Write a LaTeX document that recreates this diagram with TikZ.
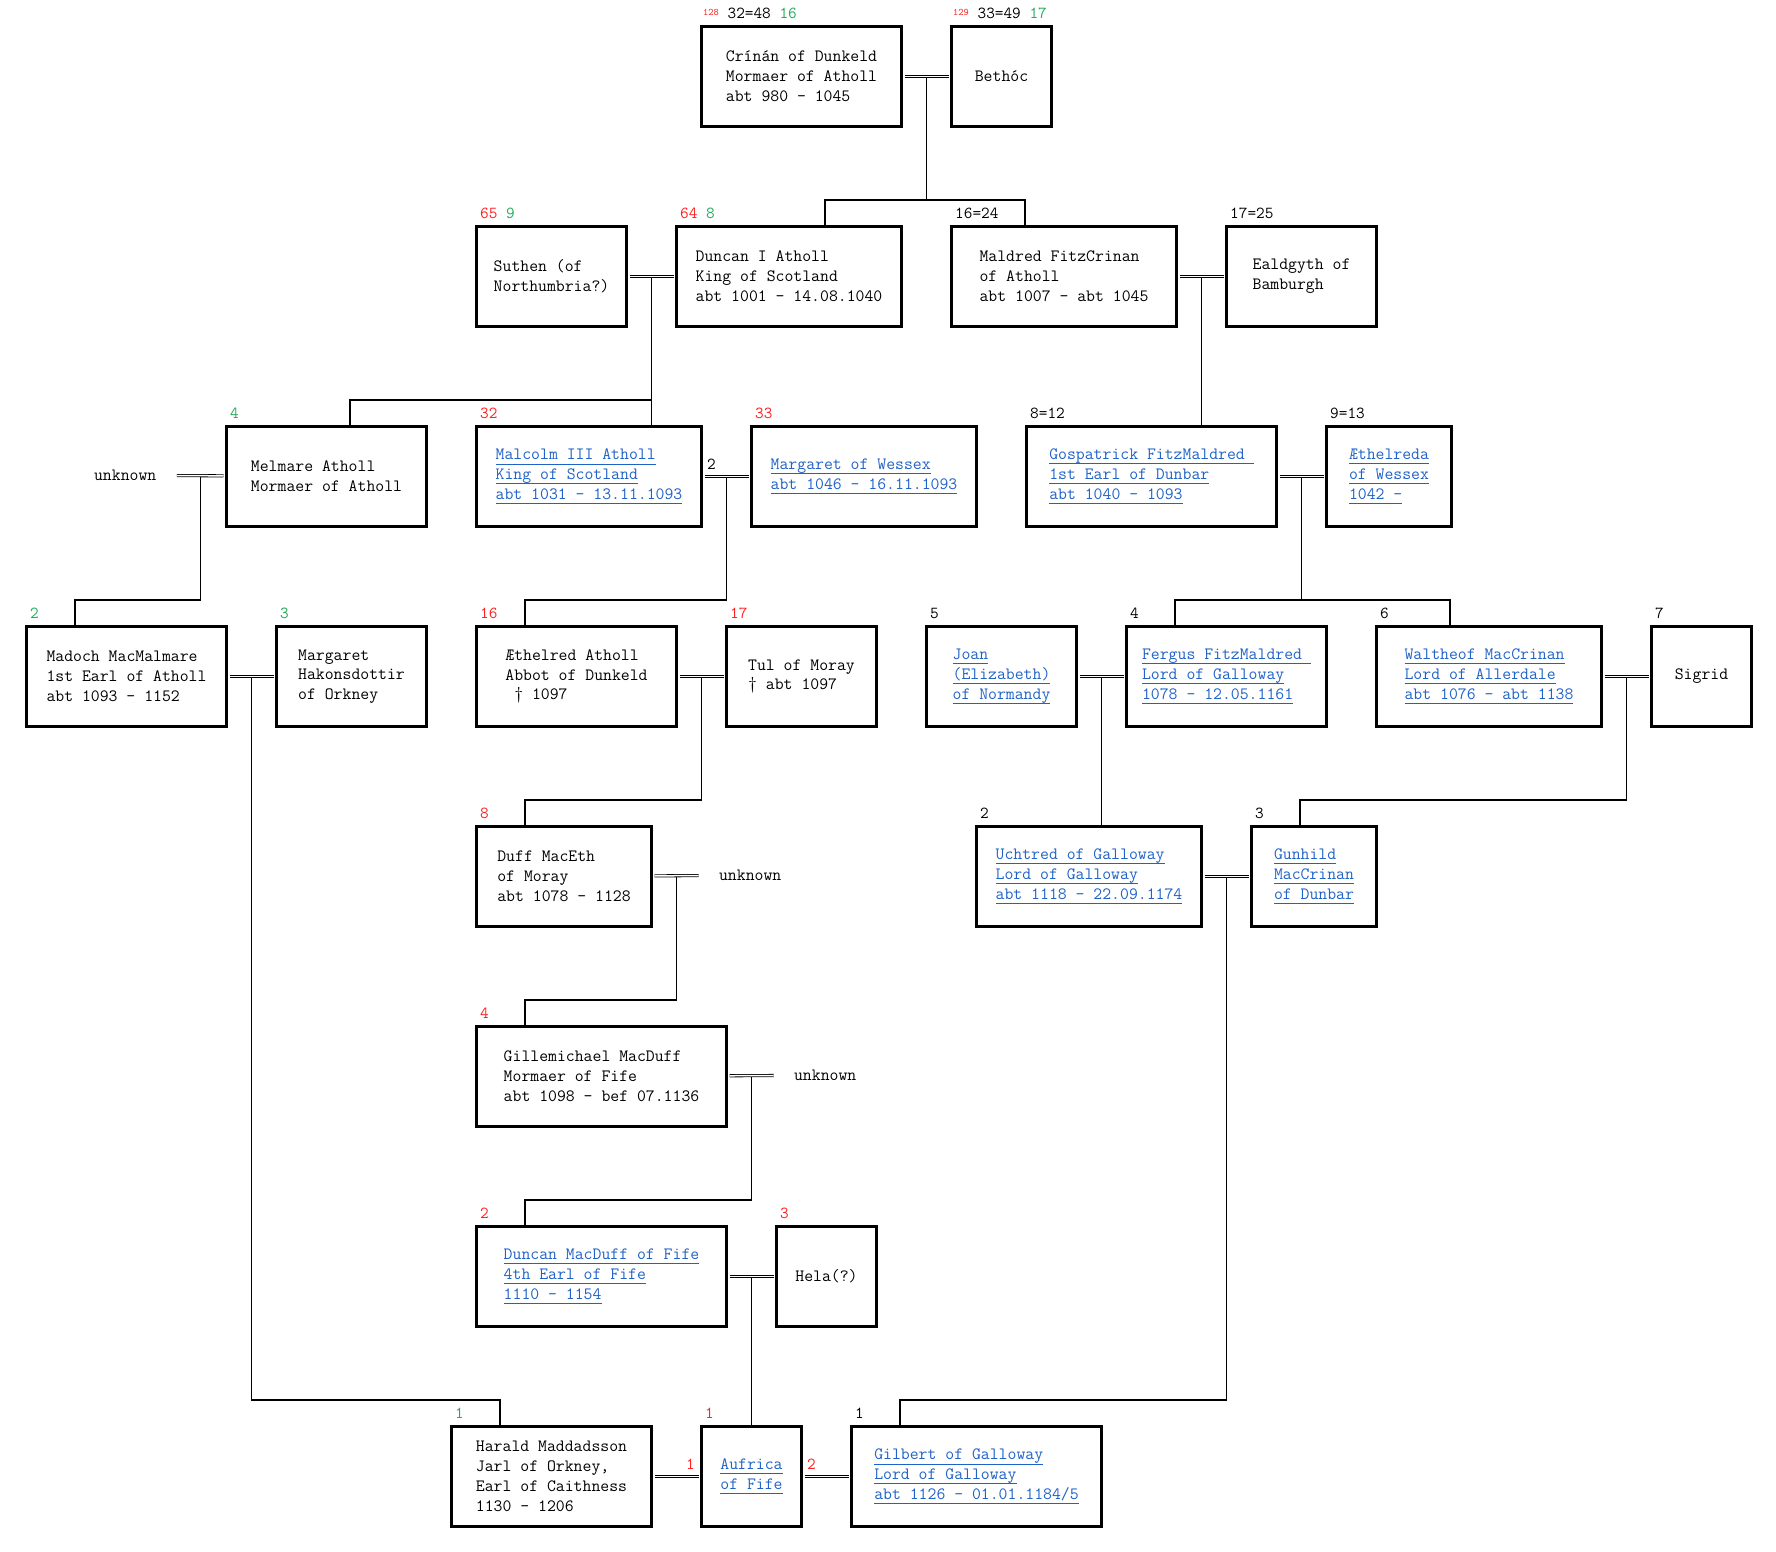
\documentclass[tikz,border=0pt]{standalone}
\usepackage{fontspec}
\usepackage{xcolor}
\usetikzlibrary{positioning,calc}
\definecolor{numred}{HTML}{FF2020}
\definecolor{numgreen}{HTML}{22AA5A}
\definecolor{lnkblue}{HTML}{1F62C8}
\newsavebox{\lnkbox}
\newcommand{\lnk}[1]{\sbox\lnkbox{#1}\rlap{\rule[-4.8pt]{\wd\lnkbox}{1pt}}\usebox\lnkbox}
\newcommand{\boxfont}{\ttfamily\fontsize{17.26}{19.8}\selectfont}
\newcommand{\numfont}{\ttfamily\fontsize{16.8}{18}\selectfont}
\newcommand{\tinynum}[1]{\raisebox{2.5pt}{\fontsize{10}{11}\selectfont #1}}
\newcommand{\redno}[1]{\textcolor{numred}{#1}}
\newcommand{\greenno}[1]{\textcolor{numgreen}{#1}}

\begin{document}
\begin{tikzpicture}[x=1pt,y=-1pt,line cap=butt,
  person/.style={draw,line width=3pt,inner sep=0pt,minimum height=100pt,anchor=north west,align=left,font=\boxfont},
  linkbox/.style={person,text=lnkblue},
  nobody/.style={inner sep=0pt,minimum width=100pt,minimum height=100pt,anchor=north west,font=\boxfont},
  num/.style={inner sep=0pt,font=\numfont},
  wire/.style={line width=1.3pt},
  wed/.style={double,line width=0.8pt,double distance=1.5pt,shorten <=1.5pt,shorten >=1.5pt}]
\useasboundingbox[fill=white] (0,0) rectangle (1776,1551);
\node[person,minimum width=200pt] (crinan) at (700,25) {Crínán of Dunkeld\\Mormaer of Atholl\\abt 980 - 1045};
\node[person,minimum width=100pt] (bethoc) at (950,25) {Bethóc};
\node[person,minimum width=150pt] (suthen) at (475,225) {Suthen (of\\Northumbria?)};
\node[person,minimum width=225pt] (duncan) at (675,225) {Duncan I Atholl\\King of Scotland\\abt 1001 - 14.08.1040};
\node[person,minimum width=225pt] (maldred) at (950,225) {Maldred FitzCrinan\\of Atholl\\abt 1007 - abt 1045};
\node[person,minimum width=150pt] (ealdgyth) at (1225,225) {Ealdgyth of\\Bamburgh};
\node[nobody] (melmarewife) at (75,425) {unknown};
\node[person,minimum width=200pt] (melmare) at (225,425) {Melmare Atholl\\Mormaer of Atholl};
\node[linkbox,minimum width=225pt] (malcolm) at (475,425) {\lnk{Malcolm III Atholl}\\\lnk{King of Scotland}\\\lnk{abt 1031 - 13.11.1093}};
\node[linkbox,minimum width=225pt] (margaret) at (750,425) {\lnk{Margaret of Wessex}\\\lnk{abt 1046 - 16.11.1093}};
\node[linkbox,minimum width=250pt] (gospatrick) at (1025,425) {\lnk{Gospatrick FitzMaldred\ }\\\lnk{1st Earl of Dunbar}\\\lnk{abt 1040 - 1093}};
\node[linkbox,minimum width=125pt] (aethelreda) at (1325,425) {\lnk{Æthelreda}\\\lnk{of Wessex}\\\lnk{1042 -}};
\node[person,minimum width=200pt] (madoch) at (25,625) {Madoch MacMalmare\\1st Earl of Atholl\\abt 1093 - 1152};
\node[person,minimum width=150pt] (hakon) at (275,625) {Margaret\\Hakonsdottir\\of Orkney};
\node[person,minimum width=200pt] (aethelred) at (475,625) {Æthelred Atholl\\Abbot of Dunkeld\\\hphantom{0}† 1097};
\node[person,minimum width=150pt] (tul) at (725,625) {Tul of Moray\\† abt 1097};
\node[linkbox,minimum width=150pt] (joan) at (925,625) {\lnk{Joan}\\\lnk{(Elizabeth)}\\\lnk{of Normandy}};
\node[linkbox,minimum width=200pt] (fergus) at (1125,625) {\lnk{Fergus FitzMaldred\ }\\\lnk{Lord of Galloway}\\\lnk{1078 - 12.05.1161}};
\node[linkbox,minimum width=225pt] (waltheof) at (1375,625) {\lnk{Waltheof MacCrinan}\\\lnk{Lord of Allerdale}\\\lnk{abt 1076 - abt 1138}};
\node[person,minimum width=100pt] (sigrid) at (1650,625) {Sigrid};
\node[person,minimum width=175pt] (duff) at (475,825) {Duff MacEth\\of Moray\\abt 1078 - 1128};
\node[nobody] (duffwife) at (700,825) {unknown};
\node[linkbox,minimum width=225pt] (uchtred) at (975,825) {\lnk{Uchtred of Galloway}\\\lnk{Lord of Galloway}\\\lnk{abt 1118 - 22.09.1174}};
\node[linkbox,minimum width=125pt] (gunhild) at (1250,825) {\lnk{Gunhild}\\\lnk{MacCrinan}\\\lnk{of Dunbar}};
\node[person,minimum width=250pt] (gille) at (475,1025) {Gillemichael MacDuff\\Mormaer of Fife\\abt 1098 - bef 07.1136};
\node[nobody] (gillewife) at (775,1025) {unknown};
\node[linkbox,minimum width=250pt] (duncanmd) at (475,1225) {\lnk{Duncan MacDuff of Fife}\\\lnk{4th Earl of Fife}\\\lnk{1110 - 1154}};
\node[person,minimum width=100pt] (hela) at (775,1225) {Hela(?)};
\node[person,minimum width=200pt] (harald) at (450,1425) {Harald Maddadsson\\Jarl of Orkney,\\Earl of Caithness\\1130 - 1206};
\node[linkbox,minimum width=100pt] (aufrica) at (700,1425) {\lnk{Aufrica}\\\lnk{of Fife}};
\node[linkbox,minimum width=250pt] (gilbert) at (850,1425) {\lnk{Gilbert of Galloway}\\\lnk{Lord of Galloway}\\\lnk{abt 1126 - 01.01.1184/5}};
\coordinate (u1) at ($(crinan.east)!.5!(bethoc.west)$);
\coordinate (u2) at ($(suthen.east)!.5!(duncan.west)$);
\coordinate (u3) at ($(maldred.east)!.5!(ealdgyth.west)$);
\coordinate (u4) at ($(melmarewife.east)!.5!(melmare.west)$);
\coordinate (u5) at ($(malcolm.east)!.5!(margaret.west)$);
\coordinate (u6) at ($(gospatrick.east)!.5!(aethelreda.west)$);
\coordinate (u7) at ($(madoch.east)!.5!(hakon.west)$);
\coordinate (u8) at ($(aethelred.east)!.5!(tul.west)$);
\coordinate (u9) at ($(joan.east)!.5!(fergus.west)$);
\coordinate (u10) at ($(waltheof.east)!.5!(sigrid.west)$);
\coordinate (u11) at ($(duff.east)!.5!(duffwife.west)$);
\coordinate (u12) at ($(uchtred.east)!.5!(gunhild.west)$);
\coordinate (u13) at ($(gille.east)!.5!(gillewife.west)$);
\coordinate (u14) at ($(duncanmd.east)!.5!(hela.west)$);
\draw[wire] (u1) |- ([xshift=150pt,yshift=25pt]duncan.north west) -- ([xshift=150pt]duncan.north west);
\draw[wire] ([xshift=150pt,yshift=25pt]duncan.north west) -| ([xshift=75pt]maldred.north west);
\draw[wire] (u2) -- (u2 |- malcolm.north);
\draw[wire] ([xshift=125pt]melmare.north west) -- ([xshift=125pt,yshift=25pt]melmare.north west) -| (u2);
\draw[wire] (u3) -- (u3 |- gospatrick.north);
\draw[wire] (u4) |- ([xshift=50pt,yshift=25pt]madoch.north west) -- ([xshift=50pt]madoch.north west);
\draw[wire] (u5) |- ([xshift=50pt,yshift=25pt]aethelred.north west) -- ([xshift=50pt]aethelred.north west);
\draw[wire] (u6) |- ([xshift=50pt,yshift=25pt]fergus.north west) -- ([xshift=50pt]fergus.north west);
\draw[wire] (u6) |- ([xshift=75pt,yshift=25pt]waltheof.north west) -- ([xshift=75pt]waltheof.north west);
\draw[wire] (u7) |- ([xshift=50pt,yshift=25pt]harald.north west) -- ([xshift=50pt]harald.north west);
\draw[wire] (u8) |- ([xshift=50pt,yshift=25pt]duff.north west) -- ([xshift=50pt]duff.north west);
\draw[wire] (u9) -- (u9 |- uchtred.north);
\draw[wire] (u10) |- ([xshift=50pt,yshift=25pt]gunhild.north west) -- ([xshift=50pt]gunhild.north west);
\draw[wire] (u11) |- ([xshift=50pt,yshift=25pt]gille.north west) -- ([xshift=50pt]gille.north west);
\draw[wire] (u12) |- ([xshift=50pt,yshift=25pt]gilbert.north west) -- ([xshift=50pt]gilbert.north west);
\draw[wire] (u13) |- ([xshift=50pt,yshift=25pt]duncanmd.north west) -- ([xshift=50pt]duncanmd.north west);
\draw[wire] (u14) -- (u14 |- aufrica.north);
\draw[wed] (crinan) -- (bethoc);
\draw[wed] (suthen) -- (duncan);
\draw[wed] (maldred) -- (ealdgyth);
\draw[wed] (melmarewife) -- (melmare);
\draw[wed] (malcolm) -- (margaret);
\draw[wed] (gospatrick) -- (aethelreda);
\draw[wed] (madoch) -- (hakon);
\draw[wed] (aethelred) -- (tul);
\draw[wed] (joan) -- (fergus);
\draw[wed] (waltheof) -- (sigrid);
\draw[wed] (duff) -- (duffwife);
\draw[wed] (uchtred) -- (gunhild);
\draw[wed] (gille) -- (gillewife);
\draw[wed] (duncanmd) -- (hela);
\draw[wed] (harald) -- (aufrica);
\draw[wed] (aufrica) -- (gilbert);
\node[num,above right=6.5pt and 3pt of crinan.north west] (crinanno) {\redno{\tinynum{128}} 32=48 \greenno{16}};
\node[num,above right=6.5pt and 3pt of bethoc.north west] (bethocno) {\redno{\tinynum{129}} 33=49 \greenno{17}};
\node[num,above right=6.5pt and 5pt of suthen.north west] (suthenno) {\redno{65} \greenno{9}};
\node[num,above right=6.5pt and 5pt of duncan.north west] (duncanno) {\redno{64} \greenno{8}};
\node[num,above right=6.5pt and 5pt of maldred.north west] (maldredno) {16=24};
\node[num,above right=6.5pt and 5pt of ealdgyth.north west] (ealdgythno) {17=25};
\node[num,above right=6.5pt and 5pt of melmare.north west] (melmareno) {\greenno{4}};
\node[num,above right=6.5pt and 5pt of malcolm.north west] (malcolmno) {\redno{32}};
\node[num,above right=6.5pt and 5pt of margaret.north west] (margaretno) {\redno{33}};
\node[num,above right=6.5pt and 5pt of gospatrick.north west] (gospatrickno) {8=12};
\node[num,above right=6.5pt and 5pt of aethelreda.north west] (aethelredano) {9=13};
\node[num,above right=6.5pt and 5pt of madoch.north west] (madochno) {\greenno{2}};
\node[num,above right=6.5pt and 5pt of hakon.north west] (hakonno) {\greenno{3}};
\node[num,above right=6.5pt and 5pt of aethelred.north west] (aethelredno) {\redno{16}};
\node[num,above right=6.5pt and 5pt of tul.north west] (tulno) {\redno{17}};
\node[num,above right=6.5pt and 5pt of joan.north west] (joanno) {5};
\node[num,above right=6.5pt and 5pt of fergus.north west] (fergusno) {4};
\node[num,above right=6.5pt and 5pt of waltheof.north west] (waltheofno) {6};
\node[num,above right=6.5pt and 5pt of sigrid.north west] (sigridno) {7};
\node[num,above right=6.5pt and 5pt of duff.north west] (duffno) {\redno{8}};
\node[num,above right=6.5pt and 5pt of uchtred.north west] (uchtredno) {2};
\node[num,above right=6.5pt and 5pt of gunhild.north west] (gunhildno) {3};
\node[num,above right=6.5pt and 5pt of gille.north west] (gilleno) {\redno{4}};
\node[num,above right=6.5pt and 5pt of duncanmd.north west] (duncanmdno) {\redno{2}};
\node[num,above right=6.5pt and 5pt of hela.north west] (helano) {\redno{3}};
\node[num,above right=6.5pt and 5pt of harald.north west] (haraldno) {\greenno{1}};
\node[num,above right=6.5pt and 5pt of aufrica.north west] (aufricano) {\redno{1}};
\node[num,above right=6.5pt and 5pt of gilbert.north west] (gilbertno) {1};
\node[num,above right=7pt and 4pt of malcolm.east] (malcolmwed) {2};
\node[num,above left=7pt and 5pt of aufrica.west] (aufricawed1) {\redno{1}};
\node[num,above right=7pt and 4pt of aufrica.east] (aufricawed2) {\redno{2}};
\end{tikzpicture}
\end{document}
